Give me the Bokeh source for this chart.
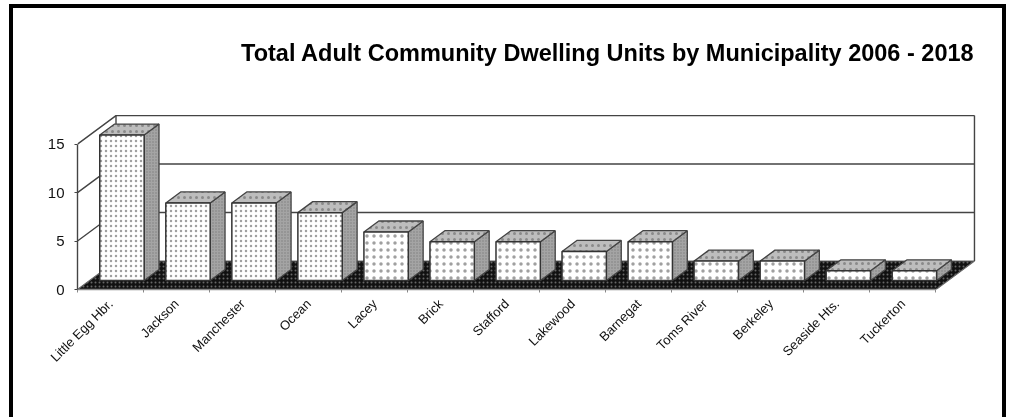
from bokeh.plotting import figure
from bokeh.models import FixedTicker, Range1d, Label
from bokeh.embed import file_html
from bokeh.resources import INLINE
import math

title = "Total Adult Community Dwelling Units by Municipality 2006 - 2018"
municipalities = ["Little Egg Hbr.", "Jackson", "Manchester", "Ocean", "Lacey", "Brick", "Stafford",
                  "Lakewood", "Barnegat", "Toms River", "Berkeley", "Seaside Hts.", "Tuckerton"]
units = [15, 8, 8, 7, 5, 4, 4, 3, 4, 2, 2, 1, 1]
y_ticks = [0, 5, 10, 15]

# oblique projection, in data units per full depth of the chart box
DX, DY = 0.583, 2.94
BAR_D0, BAR_D1 = 0.316, 0.702
BAR_L, BAR_R = 0.153, 0.825
N = len(units)

# the figure sits inside a CSS frame: left 9-13, top 4-8, right 1002-1006, open at the bottom
W, H = 989, 409
p = figure(width=W, height=H, output_backend="svg", toolbar_location=None,
           x_range=Range1d(0, 13.75), y_range=Range1d(0, 27.75),
           min_border_left=64, min_border_right=25, min_border_top=12, min_border_bottom=132)
p.styles = {"position": "fixed", "top": "4px", "left": "9px", "box-sizing": "content-box",
            "border-top": "4px solid black", "border-left": "4px solid black",
            "border-right": "4px solid black"}
p.outline_line_color = None
p.grid.visible = False
p.background_fill_color = "white"
p.border_fill_color = "white"

# chart title, right-aligned with the back wall, above the plot box
p.add_layout(Label(x=N + DX, y=24.4, text=title, text_align="right", text_baseline="middle",
                   text_font="Liberation Sans", text_font_style="bold", text_font_size="23.5px",
                   text_color="black"))

ytop = max(y_ticks)
# floor
p.patch([0, N, N + DX, DX], [0, 0, DY, DY], fill_color="#111111", line_color="#666666", line_width=1.2,
        hatch_pattern="dot", hatch_color="#666666", hatch_scale=4, hatch_weight=0.8)
# walls and gridlines
for t in y_ticks:
    if t:
        p.line([0, DX, N + DX], [t, t + DY, t + DY], line_color="#444444", line_width=1.4)
p.line([DX, DX], [DY, ytop + DY], line_color="#444444", line_width=1.4)
p.line([N + DX, N + DX], [DY, ytop + DY], line_color="#444444", line_width=1.4)

# bars
for i, v in enumerate(units):
    x0 = i + BAR_L + BAR_D0 * DX
    x1 = i + BAR_R + BAR_D0 * DX
    y0 = BAR_D0 * DY
    y1 = y0 + v
    ddx = (BAR_D1 - BAR_D0) * DX
    ddy = (BAR_D1 - BAR_D0) * DY
    front_scale = 5 if v >= 7 else 7
    p.patch([x1, x1 + ddx, x1 + ddx, x1], [y0, y0 + ddy, y1 + ddy, y1],
            fill_color="#a4a4a4", line_color="#444444", line_width=1.3,
            hatch_pattern="dot", hatch_color="#808080", hatch_scale=3, hatch_weight=0.7)
    p.patch([x0, x1, x1 + ddx, x0 + ddx], [y1, y1, y1 + ddy, y1 + ddy],
            fill_color="#bdbdbd", line_color="#444444", line_width=1.3,
            hatch_pattern="dot", hatch_color="#8a8a8a", hatch_scale=6, hatch_weight=0.6)
    p.patch([x0, x1, x1, x0], [y0, y0, y1, y1],
            fill_color="white", line_color="#333333", line_width=1.5,
            hatch_pattern="dot", hatch_color="#a0a0a0", hatch_scale=front_scale, hatch_weight=0.9)

# axes
ax = p.yaxis[0]
ax.ticker = FixedTicker(ticks=y_ticks)
ax.bounds = (0, ytop)
ax.axis_line_color = "#444444"
ax.axis_line_width = 1.4
ax.major_tick_line_color = "#444444"
ax.major_tick_in = 0
ax.major_tick_out = 3
ax.minor_tick_out = 0
ax.major_label_text_font = "Liberation Sans"
ax.major_label_text_font_size = "15px"
ax.major_label_text_color = "#111111"
ax.major_label_standoff = 10

bx = p.xaxis[0]
centers = [i + 0.5 for i in range(N)]
bx.ticker = FixedTicker(ticks=centers, minor_ticks=list(range(N + 1)))
bx.bounds = (0, N)
bx.major_label_overrides = {c: m for c, m in zip(centers, municipalities)}
bx.major_label_orientation = math.pi / 4
bx.major_label_text_font = "Liberation Sans"
bx.major_label_text_font_size = "13px"
bx.major_label_text_color = "#111111"
bx.major_label_standoff = 9
bx.major_tick_in = 0
bx.major_tick_out = 0
bx.minor_tick_in = 0
bx.minor_tick_out = 3
bx.minor_tick_line_color = "#888888"
bx.axis_line_color = "#888888"
bx.axis_line_width = 1.3

open("out.html", "w").write(file_html(p, INLINE))
